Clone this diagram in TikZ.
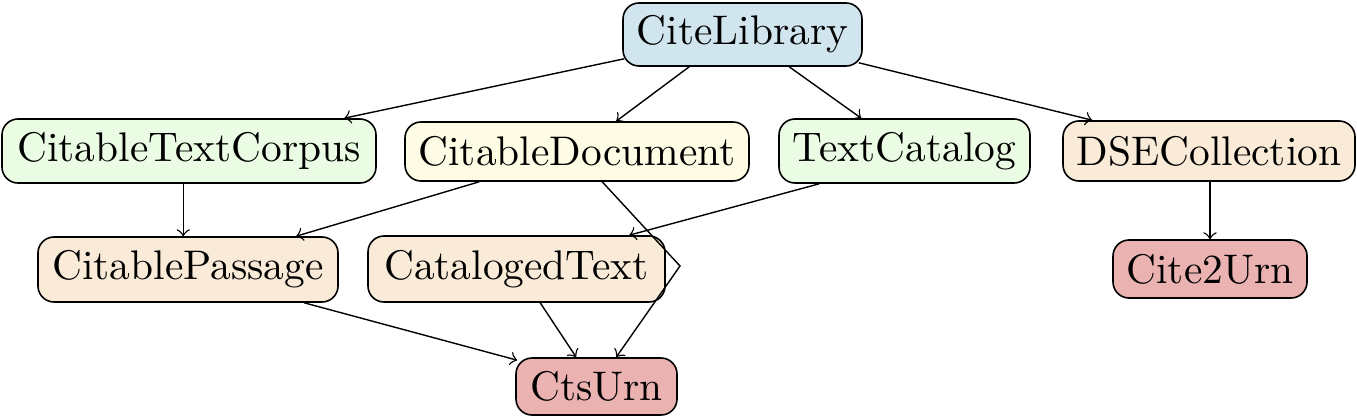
\documentclass[tikz,border=0pt]{standalone}
\usetikzlibrary{calc}
\definecolor{cblue}{RGB}{209,229,239}
\definecolor{cgreen}{RGB}{235,252,228}
\definecolor{cyellow}{RGB}{255,252,230}
\definecolor{cbeige}{RGB}{250,235,217}
\definecolor{cred}{RGB}{235,178,178}
\begin{document}
\begin{tikzpicture}[x=0.25pt,y=-0.25pt,
  box/.style={draw,rounded corners=4pt,inner xsep=1pt,inner ysep=0pt,line width=0.4pt,font=\fontsize{10.35}{12}\selectfont},
  edge/.style={->,line width=0.35pt}]
\useasboundingbox (0,0) rectangle (1357,417);
\node[box,fill=cblue,minimum width=59.75pt,minimum height=15.75pt] (CL) at (742.5,34.5) {CiteLibrary};
\node[box,fill=cgreen,minimum width=93.5pt,minimum height=16pt] (CTC) at (189,151) {CitableTextCorpus};
\node[box,fill=cyellow,minimum width=86pt,minimum height=14.75pt] (CD) at (577,151.5) {CitableDocument};
\node[box,fill=cgreen,minimum width=62.75pt,minimum height=16pt] (TC) at (904.5,151) {TextCatalog};
\node[box,fill=cbeige,minimum width=73pt,minimum height=15pt] (DSE) at (1209,151) {DSECollection};
\node[box,fill=cbeige,minimum width=75pt,minimum height=16.25pt] (CP) at (188,269.5) {CitablePassage};
\node[box,fill=cbeige,minimum width=74.25pt,minimum height=16.5pt] (CT) at (516.5,269) {CatalogedText};
\node[box,fill=cred,minimum width=48.5pt,minimum height=14.5pt] (C2U) at (1210,269) {Cite2Urn};
\node[box,fill=cred,minimum width=40.25pt,minimum height=14.25pt] (CU) at (596.5,386.5) {CtsUrn};
\coordinate (bend) at (680,266);
\draw[edge] ($(CL.south west)+(2,-8)$) -- ($(CTC.north west)+(343,0)$);
\draw[edge] ($(CL.south west)+(67,0)$) -- ($(CD.north west)+(212,0)$);
\draw[edge] ($(CL.south west)+(167,0)$) -- ($(TC.north west)+(83,0)$);
\draw[edge] ($(CL.south east)+(-4,-4)$) -- ($(DSE.north west)+(30,0)$);
\draw[edge] ($(CTC.south west)+(182,0)$) -- ($(CP.north west)+(146,0)$);
\draw[edge] ($(CD.south west)+(75,0)$) -- ($(CP.north west)+(259,0)$);
\draw[edge] ($(CD.south west)+(198,0)$) -- (bend) -- ($(CU.north west)+(101,0)$);
\draw[edge] ($(TC.south west)+(41,0)$) -- ($(CT.north west)+(262,0)$);
\draw[edge] ($(CP.south west)+(267,0)$) -- ($(CU.north west)+(2,3)$);
\draw[edge] ($(CT.south west)+(173,0)$) -- ($(CU.north west)+(61,0)$);
\draw[edge] (C2U.north |- DSE.south) -- (C2U.north);
\end{tikzpicture}
\end{document}
